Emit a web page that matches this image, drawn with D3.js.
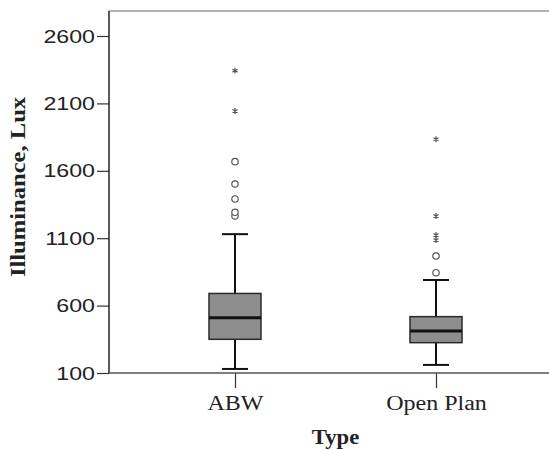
<!DOCTYPE html>
<html>
<head>
<meta charset="utf-8">
<script src="https://cdn.jsdelivr.net/npm/d3@7"></script>
<style>
  html, body { margin: 0; padding: 0; background: #fff; }
  svg { display: block; }
</style>
</head>
<body>
<script>
// ---- data ----
const categories = ["ABW", "Open Plan"];
const lowerWhisker = [130, 160];
const q1Values = [350, 325];
const medianValues = [510, 412];
const q3Values = [690, 518];
const upperWhisker = [1130, 790];
const outlierValues = [[1265, 1292, 1391, 1502, 1668], [844, 968]];
const extremeValues = [[2044, 2343], [1087, 1124, 1265, 1834]];
const yTicks = [100, 600, 1100, 1600, 2100, 2600];
const yTitle = "Illuminance, Lux";
const xTitle = "Type";

// ---- layout ----
const W = 549, H = 450;
const plotLeft = 109, plotRight = 549, plotTop = 11, plotBottom = 373;

const svg = d3.select("body").append("svg").attr("width", W).attr("height", H);

const y = d3.scaleLinear().domain([100, 2600]).range([plotBottom, 36]);
const x = d3.scalePoint().domain(categories).range([235, 436]);

const stats = categories.map((c, i) => ({
  cat: c, lo: lowerWhisker[i], q1: q1Values[i], med: medianValues[i],
  q3: q3Values[i], hi: upperWhisker[i], out: outlierValues[i], ext: extremeValues[i]
}));

// frame top line
svg.append("line").attr("x1", plotLeft).attr("x2", plotRight).attr("y1", plotTop).attr("y2", plotTop)
  .attr("stroke", "#9a9a9a").attr("stroke-width", 1.5);

// y axis
const yAxis = svg.append("g").attr("transform", `translate(${plotLeft},0)`)
  .call(d3.axisLeft(y).tickValues(yTicks).tickSize(12).tickPadding(2).tickFormat(d3.format("d")));
yAxis.select(".domain").remove();
yAxis.selectAll(".tick line").attr("stroke", "#333").attr("stroke-width", 1.2);
yAxis.selectAll("text").attr("font-family", "'Liberation Sans', Arial, sans-serif")
  .attr("font-size", 19).attr("fill", "#222")
  .each(function () {
    const L = this.getComputedTextLength();
    d3.select(this).attr("textLength", L * 1.22).attr("lengthAdjust", "spacingAndGlyphs");
  });
svg.append("line").attr("x1", plotLeft).attr("x2", plotLeft).attr("y1", plotTop).attr("y2", plotBottom)
  .attr("stroke", "#222").attr("stroke-width", 1.5);

// x axis
const xAxis = svg.append("g").attr("transform", `translate(0,${plotBottom})`)
  .call(d3.axisBottom(x).tickSize(15).tickPadding(8));
xAxis.select(".domain").remove();
xAxis.selectAll(".tick line").attr("stroke", "#333").attr("stroke-width", 1.2);
xAxis.selectAll("text").attr("font-family", "'Liberation Serif', 'Times New Roman', serif")
  .attr("font-size", 20).attr("fill", "#222")
  .each(function () {
    const L = this.getComputedTextLength();
    d3.select(this).attr("textLength", L * 1.2).attr("lengthAdjust", "spacingAndGlyphs");
  });
svg.append("line").attr("x1", plotLeft).attr("x2", plotRight).attr("y1", plotBottom).attr("y2", plotBottom)
  .attr("stroke", "#555").attr("stroke-width", 1.5);

// boxes
const boxW = 52, capW = 26;
const g = svg.append("g").selectAll("g").data(stats).join("g");

g.append("line").attr("x1", d => x(d.cat)).attr("x2", d => x(d.cat))
  .attr("y1", d => y(d.hi)).attr("y2", d => y(d.q3)).attr("stroke", "#111").attr("stroke-width", 2);
g.append("line").attr("x1", d => x(d.cat)).attr("x2", d => x(d.cat))
  .attr("y1", d => y(d.q1)).attr("y2", d => y(d.lo)).attr("stroke", "#111").attr("stroke-width", 2);
g.append("line").attr("x1", d => x(d.cat) - capW / 2).attr("x2", d => x(d.cat) + capW / 2)
  .attr("y1", d => y(d.hi)).attr("y2", d => y(d.hi)).attr("stroke", "#111").attr("stroke-width", 2);
g.append("line").attr("x1", d => x(d.cat) - capW / 2).attr("x2", d => x(d.cat) + capW / 2)
  .attr("y1", d => y(d.lo)).attr("y2", d => y(d.lo)).attr("stroke", "#111").attr("stroke-width", 2);
g.append("rect").attr("x", d => x(d.cat) - boxW / 2).attr("width", boxW)
  .attr("y", d => y(d.q3)).attr("height", d => y(d.q1) - y(d.q3))
  .attr("fill", "#8e8e8e").attr("stroke", "#2a2a2a").attr("stroke-width", 1.5);
g.append("line").attr("x1", d => x(d.cat) - boxW / 2).attr("x2", d => x(d.cat) + boxW / 2)
  .attr("y1", d => y(d.med)).attr("y2", d => y(d.med)).attr("stroke", "#111").attr("stroke-width", 3);

// mild outliers (circles)
g.selectAll("circle").data(d => d.out.map(v => ({ cat: d.cat, v }))).join("circle")
  .attr("cx", d => x(d.cat)).attr("cy", d => y(d.v)).attr("r", 3.2)
  .attr("fill", "#fff").attr("stroke", "#555").attr("stroke-width", 1.2);

// extreme outliers (asterisks)
const star = d3.symbol().type(d3.symbolAsterisk || d3.symbolCross).size(24);
g.selectAll("path.ext").data(d => d.ext.map(v => ({ cat: d.cat, v }))).join("path")
  .attr("class", "ext").attr("d", star)
  .attr("transform", d => `translate(${x(d.cat)},${y(d.v)})`)
  .attr("fill", "none").attr("stroke", "#555").attr("stroke-width", 1.2);

// titles
const yt = svg.append("text").attr("transform", `translate(25,187) rotate(-90)`)
  .attr("text-anchor", "middle").attr("font-family", "'Liberation Serif', 'Times New Roman', serif")
  .attr("font-weight", "bold").attr("font-size", 21).attr("fill", "#222").text(yTitle);
yt.attr("textLength", yt.node().getComputedTextLength() * 1.17).attr("lengthAdjust", "spacingAndGlyphs");

const xt = svg.append("text").attr("x", (x(categories[0]) + x(categories[1])) / 2).attr("y", 444)
  .attr("text-anchor", "middle").attr("font-family", "'Liberation Serif', 'Times New Roman', serif")
  .attr("font-weight", "bold").attr("font-size", 21).attr("fill", "#222").text(xTitle);
xt.attr("textLength", xt.node().getComputedTextLength() * 1.08).attr("lengthAdjust", "spacingAndGlyphs");
</script>
</body>
</html>
